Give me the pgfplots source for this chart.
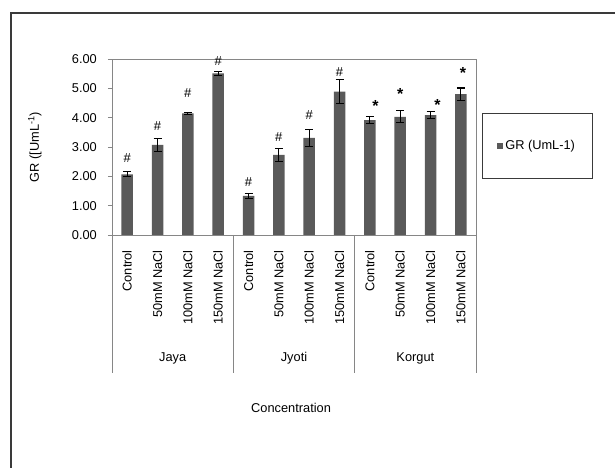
\documentclass[border=0pt]{standalone}
\usepackage{fontspec}
\setmainfont{Liberation Sans}
\usepackage{pgfplots}
\usepackage{pgfplotstable}
\pgfplotsset{compat=1.18}
\definecolor{barc}{HTML}{5A5A5A}
\definecolor{axg}{HTML}{868686}
\definecolor{frameg}{HTML}{3A3A3A}

\pgfplotstableread{
x y err
0 2.07 0.08
1 3.07 0.21
2 4.15 0.03
3 5.51 0.07
4 1.33 0.09
5 2.73 0.22
6 3.31 0.30
7 4.89 0.40
8 3.92 0.13
9 4.03 0.20
10 4.09 0.13
11 4.80 0.21
}\gr

\pgfplotstableread{
x y
0 2.63
1 3.72
2 4.84
3 5.94
4 1.82
5 3.33
6 4.09
7 5.57
}\hashpos

\pgfplotstableread{
x y
8.19 4.43
9.00 4.84
10.23 4.47
11.07 5.56
}\starpos

\begin{document}
\begin{tikzpicture}[font=\fontsize{12.8bp}{15bp}\selectfont]
\useasboundingbox (0bp,0bp) rectangle (615bp,468bp);
\draw[frameg, line width=1.6bp] (11bp,-5bp) -- (11bp,455bp) -- (620bp,455bp);
\begin{axis}[
  at={(112bp,233bp)}, anchor=south west,
  scale only axis, width=364bp, height=176bp,
  xmin=-0.5, xmax=11.5, ymin=0, ymax=6,
  clip=false,
  axis line style={axg},
  ytick={0,1,2,3,4,5,6},
  ytick pos=left,
  yticklabel style={/pgf/number format/.cd, fixed, fixed zerofill, precision=2, /tikz/.cd, inner sep=0pt, xshift=-11bp},
  /pgf/number format/assume math mode=true,
  y tick style={axg, line width=0.6bp},
  ytick align=outside, major tick length=4bp,
  xtick={0,...,11},
  xticklabels={Control,50mM NaCl,100mM NaCl,150mM NaCl,Control,50mM NaCl,100mM NaCl,150mM NaCl,Control,50mM NaCl,100mM NaCl,150mM NaCl},
  x tick style={draw=none},
  xticklabel style={rotate=90, anchor=east, inner sep=0pt, xshift=-15bp},
  ylabel={GR ([UmL\textsuperscript{-1})},
  ylabel style={at={(axis description cs:-0.212,0.5)}, anchor=center},
  xlabel={Concentration},
  xlabel style={at={(axis description cs:0.492,-0.983)}, anchor=center},
  legend style={at={(axis description cs:1.016,0.693)}, anchor=north west, draw=frameg, line width=1bp, inner xsep=15bp, inner ysep=25bp, font=\fontsize{12.8bp}{15bp}\selectfont},
  legend image code/.code={\fill[barc] (0bp,-3bp) rectangle (6bp,3bp);},
  bar width=11.5bp,
]
\addplot[ybar, fill=barc, draw=none,
  error bars/.cd, y dir=both, y explicit,
  error bar style={black, line width=1.1bp},
  error mark options={rotate=90, mark size=4bp, black, line width=1.1bp}]
  table[x=x, y=y, y error=err] {\gr};
\addlegendentry{GR (UmL-1)}
\addplot[draw=none, mark=none, forget plot, nodes near coords={\#},
  every node near coord/.style={anchor=center, inner sep=0pt, font=\fontsize{13bp}{15bp}\selectfont}]
  table[x=x, y=y] {\hashpos};
\addplot[draw=none, mark=none, forget plot, nodes near coords={*},
  every node near coord/.style={anchor=north, inner sep=0pt, yshift=5bp, font=\bfseries\fontsize{16bp}{18bp}\selectfont}]
  table[x=x, y=y] {\starpos};
\foreach \s in {-0.5,3.5,7.5,11.5} {
  \edef\tmp{\noexpand\draw[axg, line width=0.8bp] (axis cs:\s,0) -- ([yshift=-138bp]axis cs:\s,0);}
  \tmp
}
\node at ([yshift=-123bp]axis cs:1.5,0) {Jaya};
\node at ([yshift=-123bp]axis cs:5.5,0) {Jyoti};
\node at ([yshift=-123bp]axis cs:9.5,0) {Korgut};
\end{axis}
\end{tikzpicture}
\end{document}
